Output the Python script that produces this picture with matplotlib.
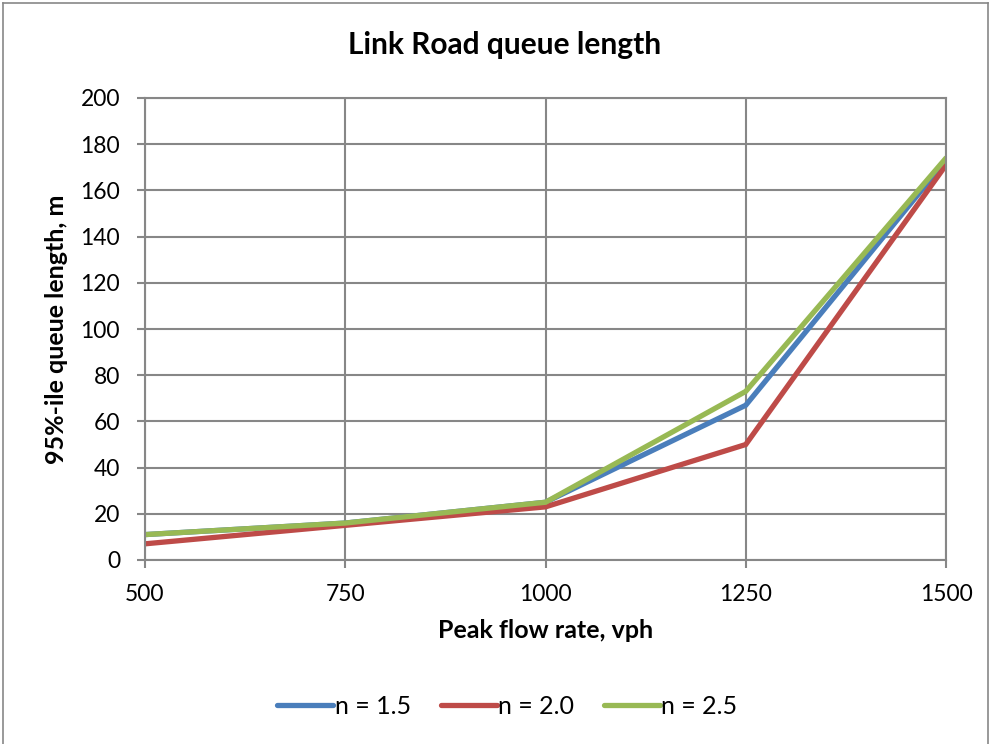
import matplotlib.pyplot as plt
from matplotlib.lines import Line2D

# peak flow rate (vph) and 95th percentile queue lengths (m)
flow = [500, 750, 1000, 1250, 1500]
queue_n15 = [11, 16, 25, 67, 173]
queue_n20 = [7, 15, 23, 50, 171]
queue_n25 = [11, 16, 25, 73, 174]
series_labels = ["n = 1.5", "n = 2.0", "n = 2.5"]

plt.rcParams['font.family'] = ['Lato', 'DejaVu Sans']

grid_col = '#878787'

fig = plt.figure(figsize=(9.91, 7.44), dpi=100)
ax = fig.add_axes([145/991, 1 - 560/744, 801/991, 462/744])

ax.plot(flow, queue_n15, color='#4A7EBB', lw=3.8, label=series_labels[0], solid_joinstyle='miter')
ax.plot(flow, queue_n20, color='#BE4B48', lw=3.8, label=series_labels[1], solid_joinstyle='miter')
ax.plot(flow, queue_n25, color='#98B954', lw=3.8, label=series_labels[2], solid_joinstyle='miter')

ax.set_xlim(500, 1500)
ax.set_ylim(0, 200)
ax.set_xticks([500, 750, 1000, 1250, 1500])
ax.set_yticks(range(0, 201, 20))
ax.grid(True, color=grid_col, lw=1.5)
ax.set_axisbelow(True)
for s in ax.spines.values():
    s.set_color(grid_col)
    s.set_linewidth(1.5)
ax.tick_params(axis='both', colors=grid_col, width=1.5, length=5.5,
               labelsize=16.5, labelcolor='black', direction='out')
ax.tick_params(axis='x', pad=12)
ax.tick_params(axis='y', pad=12.5)

ax.set_xlabel('Peak flow rate, vph', fontsize=18, fontweight='bold', labelpad=10)
ax.set_ylabel('95%-ile queue length, m', fontsize=18, fontweight='bold', labelpad=9)
fig.text(0.509, 1 - 45/744, 'Link Road queue length', ha='center', va='center',
         fontsize=21.5, fontweight='bold')

handles, labels = ax.get_legend_handles_labels()
for h in handles:
    h.set_solid_capstyle('round')
fig.legend(handles, labels, loc='center', bbox_to_anchor=(0.512, 1 - 706/744),
           ncol=3, frameon=False, fontsize=18, handlelength=2.24,
           handletextpad=0.05, columnspacing=1.2)

# chart area border
for xs, ys in [([0.003, 0.003], [0, 0.996]), ([0.003, 0.997], [0.996, 0.996]),
               ([0.997, 0.997], [0, 0.996])]:
    fig.add_artist(Line2D(xs, ys, color=grid_col, lw=1.2, transform=fig.transFigure))

fig.savefig('out.png', dpi=100, facecolor='white')
